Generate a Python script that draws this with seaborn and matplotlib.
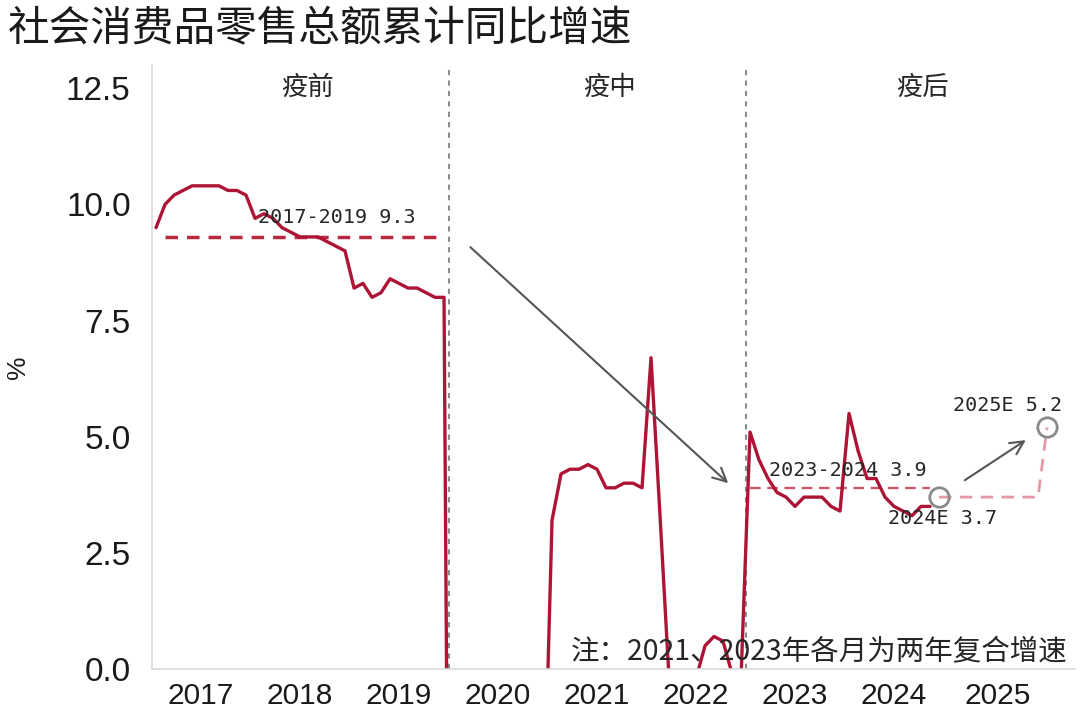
import matplotlib
matplotlib.use("Agg")
import matplotlib.pyplot as plt
import pandas as pd
import seaborn as sns

# 社零累计同比（%），每年 2-12 月；2021、2023 为两年复合增速
years = [2017, 2018, 2019, 2020, 2021, 2022, 2023, 2024, 2025]
v2017 = [9.5, 10.0, 10.2, 10.3, 10.4, 10.4, 10.4, 10.4, 10.3, 10.3, 10.2]
v2018 = [9.7, 9.8, 9.7, 9.5, 9.4, 9.3, 9.3, 9.3, 9.2, 9.1, 9.0]
v2019 = [8.2, 8.3, 8.0, 8.1, 8.4, 8.3, 8.2, 8.2, 8.1, 8.0, 8.0]
v2020 = [-20.5, -19.0, -16.2, -13.5, -11.4, -9.9, -8.6, -7.2, -5.9, -4.8, -3.9]
v2021 = [3.2, 4.2, 4.3, 4.3, 4.4, 4.3, 3.9, 3.9, 4.0, 4.0, 3.9]
v2022 = [6.7, 3.3, -0.2, -1.5, -0.7, -0.2, 0.5, 0.7, 0.6, -0.1, -0.2]
v2023 = [5.1, 4.5, 4.1, 3.8, 3.7, 3.5, 3.7, 3.7, 3.7, 3.5, 3.4]
v2024 = [5.5, 4.7, 4.1, 4.1, 3.7, 3.5, 3.4, 3.3, 3.5, 3.5]

# 预测：2024年12月起
forecast_values = [3.7, 3.7, 3.7, 3.7, 3.7, 3.7, 3.7, 3.7, 3.7, 3.7, 3.7, 3.7, 5.2]

avg_names = ["2017-2019", "2023-2024"]
avg_values = [9.3, 3.9]
avg_spans = [((2017, 3), (2019, 12)), ((2023, 2), (2024, 11))]

periods = ["疫前", "疫中", "疫后"]
note = "注：2021、2023年各月为两年复合增速"
title = "社会消费品零售总额累计同比增速"

# month slots on the x axis (2025 has 12 slots)
slots = []
for y in years:
    months = range(1, 13) if y == 2025 else range(2, 13)
    for m in months:
        slots.append((y, m))
pos = {s: i for i, s in enumerate(slots)}

hist = {2017: v2017, 2018: v2018, 2019: v2019, 2020: v2020,
        2021: v2021, 2022: v2022, 2023: v2023, 2024: v2024}
rows = []
for y, vals in hist.items():
    for m, v in zip(range(2, 2 + len(vals)), vals):
        rows.append({"x": pos[(y, m)], "value": v})
df = pd.DataFrame(rows)

fc_slots = [(2024, 12)] + [(2025, m) for m in range(1, 13)]
df_fc = pd.DataFrame({"x": [pos[s] for s in fc_slots], "value": forecast_values})

sns.set_theme(style="white")
plt.rcParams["font.family"] = ["Noto Sans CJK SC", "DejaVu Sans"]

fig = plt.figure(figsize=(10.8, 7.21), dpi=100)
ax = fig.add_axes([0.1403, 0.0721, 0.855, 0.8377])

RED = "#ad1435"
MONO = ["DejaVu Sans Mono"]

# forecast (light pink)
sns.lineplot(data=df_fc, x="x", y="value", color="#e39aa6", lw=2.0, ax=ax)
ax.lines[-1].set_dashes([4.5, 3])

# averages
avg_styles = [("#b8283f", 2.5, [3.6, 2.6]), ("#cc5566", 1.7, [4.5, 2.8])]
for val, (a, b), (c, lw, dash) in zip(avg_values, avg_spans, avg_styles):
    d = pd.DataFrame({"x": [pos[a], pos[b]], "value": [val, val]})
    sns.lineplot(data=d, x="x", y="value", color=c, lw=lw, ax=ax)
    ax.lines[-1].set_dashes(dash)

# main series
sns.lineplot(data=df, x="x", y="value", color=RED, lw=2.4, ax=ax)

# period separators
for y in [2020, 2023]:
    ax.axvline(pos[(y, 2)] - 0.5, color="#8c8c8c", lw=1.5, dashes=(2.5, 2.5), zorder=1)

# circles at 2024E / 2025E
circ_x = [pos[(2024, 12)], pos[(2025, 12)]]
circ_y = [forecast_values[0], forecast_values[-1]]
ax.plot(circ_x, circ_y, "o", ms=14, mfc="none", mec="#8a8a8a", mew=2, zorder=5)

# arrows
arrow_kw = dict(arrowstyle="->", color="#555555", lw=1.5, mutation_scale=24)
ax.annotate("", xy=(63.8, 3.96), xytext=(34.7, 9.12), arrowprops=arrow_kw)
ax.annotate("", xy=(96.9, 4.96), xytext=(89.6, 4.03), arrowprops=arrow_kw)

# labels
tk = dict(family=MONO, fontsize=14.5, color="#262626", ha="left", va="center", zorder=6)
ax.text(11.3, 9.72, f"{avg_names[0]} {avg_values[0]}", **tk)
ax.text(68.1, 4.28, f"{avg_names[1]} {avg_values[1]}", **tk)
ax.text(81.3, 3.24, f"2024E {forecast_values[0]}", **tk)
ax.text(88.6, 5.68, f"2025E {forecast_values[-1]}", **tk)

for name, xc in zip(periods, [16.8, 50.4, 85.2]):
    ax.text(xc, 12.52, name, fontsize=19, color="#262626", ha="center", va="center")

ax.text(0.9925, 0.028, note, transform=ax.transAxes, fontsize=20.5,
        color="#262626", ha="right", va="center", zorder=6)

# axes
ax.set_xlim(-0.5, 102.1)
ax.set_ylim(0, 13)
ax.set_yticks([0, 2.5, 5.0, 7.5, 10.0, 12.5])
ax.set_yticklabels(["0.0", "2.5", "5.0", "7.5", "10.0", "12.5"],
                   family=["Liberation Sans"], fontsize=24)

bounds = [pos[(y, 2 if y < 2025 else 1)] - 0.5 for y in years] + [len(slots) - 0.5]
ax.set_xticks(bounds)
ax.set_xticklabels([])
centers = [(a + b) / 2 for a, b in zip(bounds[:-1], bounds[1:])]
ax.set_xticks(centers, minor=True)
ax.set_xticklabels([str(y) for y in years], minor=True,
                   family=["Liberation Sans"], fontsize=21.5)
ax.tick_params(axis="x", which="minor", length=0, pad=9, colors="#1a1a1a")
ax.tick_params(axis="x", which="major", length=6, width=1, color="#aaaaaa")
ax.tick_params(axis="y", length=6, width=1, color="#aaaaaa", pad=9, labelcolor="#1a1a1a")

ax.set_xlabel("")
ax.set_ylabel("%", family=["Liberation Sans"], fontsize=19, color="#1a1a1a")
ax.yaxis.set_label_coords(-0.1316, 0.5)

for side in ["top", "right"]:
    ax.spines[side].set_visible(False)
for side in ["left", "bottom"]:
    ax.spines[side].set_color("#d9d9d9")
    ax.spines[side].set_linewidth(1.2)

fig.text(0.007, 0.958, title, fontsize=30, color="#1a1a1a", ha="left", va="center")

fig.savefig("out.png", dpi=100)
